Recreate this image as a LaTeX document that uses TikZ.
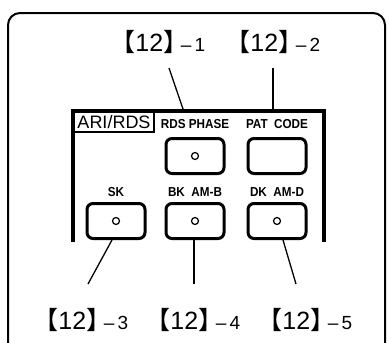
\documentclass[tikz,border=0pt]{standalone}
\usepackage{fontspec}
\setmainfont{Liberation Sans}
\newfontfamily\cjk{Noto Sans CJK JP}
\usetikzlibrary{positioning}
\newcommand\refno[1]{{\cjk\kern-.42em 【}12{\cjk 】\kern-.42em}{\fontsize{19}{19}\selectfont\,–\,#1}}
\newcommand\keytext[1]{\scalebox{0.9}[1]{#1}}

\begin{document}
\begin{tikzpicture}[x=1pt,y=-1pt]
  \tikzset{key/.style={draw,rounded corners=6pt,line width=3pt,minimum width=58pt,minimum height=35pt,inner sep=0pt},
    lamp/.style={draw,circle,line width=1.2pt,minimum size=7pt,inner sep=0pt},
    keylabel/.style={font=\fontsize{13}{13}\selectfont\bfseries,inner sep=0pt},
    callout/.style={font=\fontsize{25}{25}\selectfont,inner sep=0pt,anchor=base},
    leader/.style={line width=1.3pt}}
  \useasboundingbox (0,0) rectangle (389,343);
  \begin{scope}
    \clip (0,0) rectangle (389,343);
    \draw[line width=2pt,rounded corners=12pt] (8,13) rectangle (385,356); % frame
  \end{scope}

  % panel
  \draw[line width=4.5pt] (73,242) -- (73,111) -- (324,111) -- (324,242);
  \draw[line width=1.8pt] (73,132) -- (154,132) -- (154,111);
  \node[font=\fontsize{18}{18}\selectfont,inner sep=0pt] (ari) at (114,122) {ARI/RDS};

  % keys
  \node[key] (rds) at (195,156) {};
  \node[key] (pat) at (277,156) {};
  \node[key] (sk) at (116,221) {};
  \node[key] (bk) at (195,221) {};
  \node[key] (dk) at (277,221) {};
  \node[lamp] (rdslamp) at (rds) {};
  \node[lamp] (sklamp) at (sk) {};
  \node[lamp] (bklamp) at (bk) {};
  \node[lamp] (dklamp) at (dk) {};

  \node[keylabel,above=8pt of rds] (rdslbl) {\keytext{RDS PHASE}};
  \node[keylabel,above=8pt of pat] (patlbl) {\keytext{PAT\ \ CODE}};
  \node[keylabel,above=5pt of sk] (sklbl) {\keytext{SK}};
  \node[keylabel,above=5pt of bk] (bklbl) {\keytext{BK\ \ AM-B}};
  \node[keylabel,above=5pt of dk] (dklbl) {\keytext{DK\ \ AM-D}};

  % reference numbers
  \node[callout] (c1) at (163,51) {\refno{1}};
  \node[callout] (c2) at (278,51) {\refno{2}};
  \node[callout] (c3) at (86,329) {\refno{3}};
  \node[callout] (c4) at (198,329) {\refno{4}};
  \node[callout] (c5) at (310,329) {\refno{5}};

  \coordinate (t1) at (183,109);
  \coordinate (t2) at (273,109);
  \coordinate (e3) at (88,284);
  \coordinate (e4) at (194,284);
  \coordinate (e5) at (296,284);
  \draw[leader] (169,68) -- (t1);
  \draw[leader] (273,68) -- (t2);
  \draw[leader] ([xshift=-4pt]sk.south) -- (e3);
  \draw[leader] ([xshift=-1pt]bk.south) -- (e4);
  \draw[leader] ([xshift=6pt]dk.south) -- (e5);
\end{tikzpicture}
\end{document}
